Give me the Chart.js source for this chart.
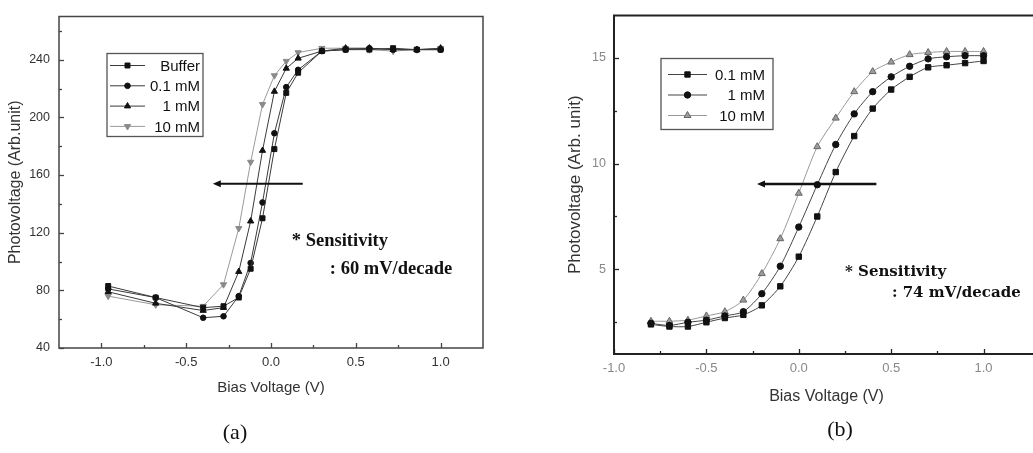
<!DOCTYPE html>
<html><head><meta charset="utf-8">
<script src="https://cdn.jsdelivr.net/npm/chart.js@4.4.1/dist/chart.umd.min.js"></script>
<style>
html,body{margin:0;padding:0;background:#fff;overflow:hidden;width:1033px;height:453px;}
#wa{position:absolute;left:0;top:0;width:520px;height:453px;}
#wb{position:absolute;left:540px;top:0;width:493px;height:453px;overflow:hidden;}
</style></head><body>
<div id="wa"><canvas id="ca" width="520" height="453"></canvas></div>
<div id="wb"><canvas id="cb" width="500" height="453"></canvas></div>
<script>
// ---------- Panel (a) ----------
const biasA = [-0.96,-0.68,-0.40,-0.28,-0.19,-0.12,-0.05,0.02,0.09,0.16,0.30,0.44,0.58,0.72,0.86,1.00];
const bufferA = [83,75,68,69,75,95,130,178,217,231,246,247,247,248,247,247];
const mM01A   = [81,75,61,62,76,99,141,189,221,233,246,247,248,247,247,247];
const mM1A    = [79,71,66,68,93,128,177,218,234,241,246,248,248,247,247,248];
const mM10A   = [76,70,69,84,123,169,209,229,239,245,248,248,247,246,247,248];
const xTicksA = [-1.0,-0.5,0.0,0.5,1.0];
const xMinorA = [-0.75,-0.25,0.25,0.75];
const yTicksA = [40,80,120,160,200,240];
const yMinorA = [60,100,140,180,220,260];
const labelsA = ['Buffer','0.1 mM','1 mM','10 mM'];
const arrowA = [[0.187,154],[-0.343,154]];
const noteA = [['* Sensitivity',0.123,113.8],[': 60 mV/decade',0.347,94.8]];

// ---------- Panel (b) ----------
const biasB = [-0.8,-0.7,-0.6,-0.5,-0.4,-0.3,-0.2,-0.1,0.0,0.1,0.2,0.3,0.4,0.5,0.6,0.7,0.8,0.9,1.0];
const mM01B = [2.4,2.3,2.3,2.5,2.7,2.85,3.3,4.2,5.6,7.5,9.6,11.3,12.6,13.5,14.1,14.55,14.65,14.75,14.85];
const mM1B  = [2.45,2.35,2.5,2.6,2.8,3.0,3.85,5.15,7.0,9.0,10.9,12.35,13.4,14.1,14.6,14.95,15.05,15.1,15.1];
const mM10B = [2.55,2.55,2.6,2.8,3.0,3.55,4.8,6.45,8.6,10.8,12.15,13.4,14.35,14.8,15.15,15.25,15.3,15.3,15.3];
const xTicksB = [-1.0,-0.5,0.0,0.5,1.0];
const xMinorB = [-0.75,-0.25,0.25,0.75];
const yTicksB = [5,10,15];
const yMinorB = [2.5,7.5,12.5];
const labelsB = ['0.1 mM','1 mM','10 mM'];
const arrowB = [[0.42,9.03],[-0.226,9.03]];
const noteB = [['* Sensitivity',0.25,4.85],[': 74 mV/decade',0.504,3.875]];

const pts = (xs, ys) => xs.map((x,i)=>({x:x, y:ys[i]}));

const decor = {
  id:'decor',
  afterDatasetsDraw(chart, args, o){
    const ctx = chart.ctx, ca = chart.chartArea, xs = chart.scales.x, ys = chart.scales.y;
    ctx.save();
    ctx.strokeStyle = o.frameColor; ctx.lineWidth = o.frameWidth;
    ctx.strokeRect(ca.left, ca.top, ca.right-ca.left, ca.bottom-ca.top);
    ctx.lineWidth = 1.3;
    const tx = (vals,len)=>vals.forEach(v=>{const p=Math.round(xs.getPixelForValue(v))+0.5;ctx.beginPath();ctx.moveTo(p,ca.bottom);ctx.lineTo(p,ca.bottom-len);ctx.stroke();});
    const ty = (vals,len)=>vals.forEach(v=>{const p=Math.round(ys.getPixelForValue(v))+0.5;ctx.beginPath();ctx.moveTo(ca.left,p);ctx.lineTo(ca.left+len,p);ctx.stroke();});
    tx(o.xMajor,5); tx(o.xMinor,3); ty(o.yMajor,5); ty(o.yMinor,3);
    const a0x = xs.getPixelForValue(o.arrow[0][0]), a0y = ys.getPixelForValue(o.arrow[0][1]);
    const a1x = xs.getPixelForValue(o.arrow[1][0]);
    ctx.strokeStyle = '#111'; ctx.fillStyle = '#111'; ctx.lineWidth = o.arrowWidth;
    ctx.beginPath(); ctx.moveTo(a0x,a0y); ctx.lineTo(a1x+6,a0y); ctx.stroke();
    ctx.beginPath(); ctx.moveTo(a1x,a0y); ctx.lineTo(a1x+8,a0y-3.5); ctx.lineTo(a1x+8,a0y+3.5); ctx.closePath(); ctx.fill();
    ctx.font = o.noteFont; ctx.fillStyle = '#111'; ctx.textAlign='left'; ctx.textBaseline='middle';
    o.notes.forEach(n=>ctx.fillText(n[0], xs.getPixelForValue(n[1]), ys.getPixelForValue(n[2])));
    const L = o.legend;
    ctx.strokeStyle = '#555'; ctx.lineWidth = 1.3;
    ctx.strokeRect(ca.left+L.x, ca.top+L.y, L.w, L.h);
    chart.data.datasets.forEach((ds,i)=>{
      const y = ca.top + L.y + L.first + i*L.step;
      ctx.strokeStyle = ds.borderColor; ctx.lineWidth = 1;
      ctx.beginPath(); ctx.moveTo(ca.left+L.x+L.l1, y); ctx.lineTo(ca.left+L.x+L.l2, y); ctx.stroke();
      ctx.fillStyle = ds.pointBackgroundColor; ctx.strokeStyle = ds.pointBorderColor; ctx.lineWidth = 1;
      Chart.helpers.drawPoint(ctx, {pointStyle: ds.pointStyle, rotation: ds.pointRotation||0, radius: ds.pointRadius, borderWidth:1}, ca.left+L.x+(L.l1+L.l2)/2, y);
      ctx.fillStyle = '#111'; ctx.font = L.font; ctx.textAlign='right'; ctx.textBaseline='middle';
      ctx.fillText(ds.label, ca.left+L.x+L.tx, y+1);
    });
    ctx.font = '22px "Liberation Serif", serif'; ctx.fillStyle='#111'; ctx.textAlign='center'; ctx.textBaseline='middle';
    ctx.fillText(o.caption, o.capX, o.capY);
    ctx.restore();
  }
};

function ds(label, xs, ys, style, rot, r, line, fill, stroke, tension){
  return {label, data: pts(xs,ys), borderColor: line, borderWidth: 1, pointStyle: style, pointRotation: rot,
    pointRadius: r, pointBackgroundColor: fill, pointBorderColor: stroke, pointBorderWidth: 1, tension: tension||0, fill:false};
}

function axisX(min,max,ticks,col,fs,title,tpad,h){
  return {type:'linear', min, max,
    afterBuildTicks: s=>{ s.ticks = ticks.map(v=>({value:v})); },
    afterFit: s=>{ s.height = h; },
    grid:{display:false, drawTicks:false}, border:{display:false},
    ticks:{padding:7, color:col, font:{family:'"Liberation Sans", Arial', size:13}, callback:v=>Number(v).toFixed(1)},
    title:{display:true, text:title, color:'#333', font:{family:'"Liberation Sans", Arial', size:fs}, padding:{top:0,bottom:tpad}}
  };
}
function axisY(min,max,ticks,col,fs,title,tpad,lpad,w,tfs){
  return {type:'linear', min, max,
    afterBuildTicks: s=>{ s.ticks = ticks.map(v=>({value:v})); },
    afterFit: s=>{ s.width = w; },
    grid:{display:false, drawTicks:false}, border:{display:false},
    ticks:{padding:lpad, color:col, font:{family:'"Liberation Sans", Arial', size:tfs}, callback:v=>String(v)},
    title:{display:true, text:title, color:'#333', font:{family:'"Liberation Sans", Arial', size:fs}, padding:{top:tpad,bottom:0}}
  };
}

const chartA = new Chart(document.getElementById('ca'), {
  type:'line',
  data:{datasets:[
    ds(labelsA[0], biasA, bufferA, 'rect', 0, 3.5, '#3a3a3a', '#111', '#111'),
    ds(labelsA[1], biasA, mM01A, 'circle', 0, 2.8, '#3a3a3a', '#111', '#111'),
    ds(labelsA[2], biasA, mM1A, 'triangle', 0, 3.6, '#3a3a3a', '#111', '#111'),
    ds(labelsA[3], biasA, mM10A, 'triangle', 180, 3.6, '#9a9a9a', '#8a8a8a', '#8a8a8a')
  ]},
  options:{responsive:false, animation:false, devicePixelRatio:1,
    layout:{autoPadding:false, padding:{left:0,right:37,top:9,bottom:0}},
    plugins:{legend:{display:false}, tooltip:{enabled:false},
      decor:{frameColor:'#444', frameWidth:1.5, xMajor:xTicksA, xMinor:xMinorA, yMajor:yTicksA, yMinor:yMinorA,
        arrow:arrowA, arrowWidth:2, notes:noteA, noteFont:'bold 18.5px "Liberation Serif", serif',
        legend:{x:48,y:37,w:96,h:83,first:12,step:20.3,l1:3,l2:38,tx:93,font:'15px "Liberation Sans", Arial'},
        caption:'(a)', capX:235, capY:433}},
    scales:{
      x: axisX(-1.25,1.25,xTicksA,'#333',15,'Bias Voltage (V)',56,105),
      y: axisY(40,270,yTicksA,'#333',16,'Photovoltage (Arb.unit)',6,9,59,12.5)
    }
  },
  plugins:[decor]
});

const chartB = new Chart(document.getElementById('cb'), {
  type:'line',
  data:{datasets:[
    ds(labelsB[0], biasB, mM01B, 'rect', 0, 3.8, '#444', '#111', '#111', 0.25),
    ds(labelsB[1], biasB, mM1B, 'circle', 0, 3.2, '#444', '#111', '#111', 0.25),
    ds(labelsB[2], biasB, mM10B, 'triangle', 0, 4, '#999', '#9c9c9c', '#666', 0.25)
  ]},
  options:{responsive:false, animation:false, devicePixelRatio:1,
    layout:{autoPadding:false, padding:{left:0,right:1,top:10,bottom:0}},
    plugins:{legend:{display:false}, tooltip:{enabled:false},
      decor:{frameColor:'#222', frameWidth:2, xMajor:xTicksB, xMinor:xMinorB, yMajor:yTicksB, yMinor:yMinorB,
        arrow:arrowB, arrowWidth:2.5, notes:noteB, noteFont:'bold 15px "DejaVu Serif", serif',
        legend:{x:47,y:43,w:112,h:71,first:16,step:20.5,l1:7,l2:46,tx:104,font:'15px "Liberation Sans", Arial'},
        caption:'(b)', capX:300, capY:430}},
    scales:{
      x: axisX(-1.0,1.3,xTicksB,'#888',16,'Bias Voltage (V)',47,99),
      y: axisY(1,17,yTicksB,'#888',17,'Photovoltage (Arb. unit)',25,8,74,12.5)
    }
  },
  plugins:[decor]
});
</script>
</body></html>
